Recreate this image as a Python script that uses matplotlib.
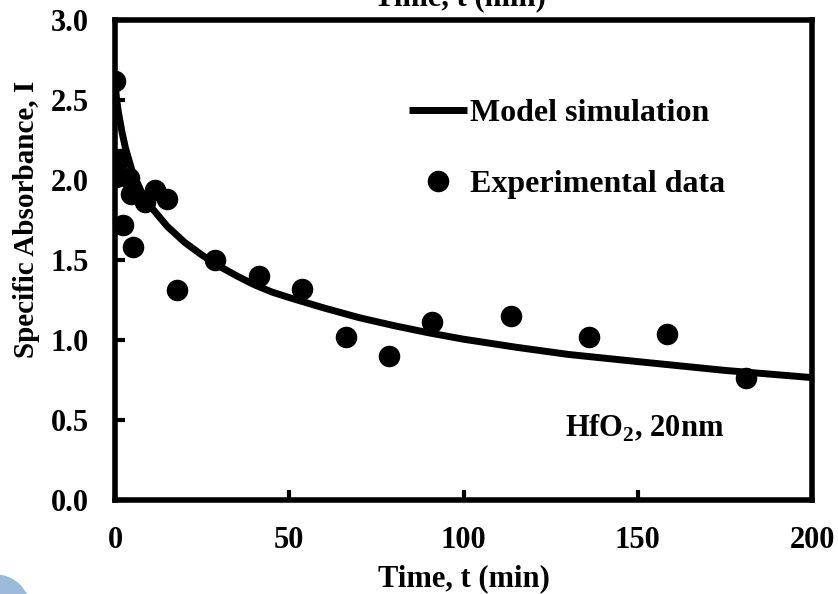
"""
Specific absorbance of HfO2 (20 nm) over time: experiment vs model.
"""

import matplotlib
matplotlib.use("Agg")
import matplotlib.pyplot as plt
from matplotlib.patches import Circle

# measured points
exp_t = [0, 0.3, 1.5, 2.4, 4, 4.5, 5.3, 8.6, 11.5, 15, 17.8,
         28.7, 41.3, 53.6, 66.2, 78.6, 91, 113.5, 136.1, 158.5, 181]
exp_I = [2.62, 2.02, 2.13, 1.72, 2.01, 1.91, 1.58, 1.86, 1.94, 1.88, 1.31,
         1.50, 1.40, 1.32, 1.02, 0.90, 1.11, 1.15, 1.02, 1.04, 0.76]

# model curve
model_t = [0, 0.5, 1, 2, 3, 5, 7.5, 10, 15, 20, 25, 30, 35, 40, 45, 50,
           60, 70, 80, 90, 100, 115, 130, 150, 175, 200]
model_I = [2.60, 2.50, 2.42, 2.30, 2.20, 2.05, 1.93, 1.84, 1.71, 1.61, 1.53,
           1.46, 1.40, 1.345, 1.30, 1.265, 1.20, 1.14, 1.09, 1.045, 1.005,
           0.955, 0.91, 0.865, 0.81, 0.765]

x_ticks = [0, 50, 100, 150, 200]
y_ticks = [0.0, 0.5, 1.0, 1.5, 2.0, 2.5, 3.0]

plt.rcParams["font.family"] = ["Liberation Serif", "DejaVu Serif"]
plt.rcParams["font.weight"] = "bold"
plt.rcParams["mathtext.fontset"] = "custom"
plt.rcParams["mathtext.rm"] = "Liberation Serif:bold"
plt.rcParams["mathtext.bf"] = "Liberation Serif:bold"

fig = plt.figure(figsize=(8.38, 5.94), dpi=100)
ax = fig.add_axes([115 / 838, 1 - 500 / 594, 697 / 838, 480 / 594])

ax.plot(model_t, model_I, color="black", linewidth=5, zorder=3,
        solid_capstyle="butt", solid_joinstyle="round",
        label="Model simulation")
ax.plot(exp_t, exp_I, "o", color="black", markersize=14.5, zorder=2,
        label="Experimental data")

ax.set_xlim(0, 200)
ax.set_ylim(0, 3.0)
ax.set_xticks(x_ticks)
ax.set_yticks(y_ticks)
ax.set_yticklabels([f"{v:.1f}" for v in y_ticks])

for s in ax.spines.values():
    s.set_linewidth(4)
ax.tick_params(direction="in", length=7, width=3, labelsize=22)
ax.tick_params(axis="x", pad=19)
ax.tick_params(axis="y", pad=19)

ax.set_xlabel("Time, t (min)", fontsize=22, fontweight="bold", labelpad=6)
ax.set_ylabel("Specific Absorbance, I", fontsize=21, fontweight="bold")
ax.yaxis.set_label_coords(-0.108, 0.585)

ax.text(129, 0.394, r"HfO$_2$, 20nm", fontsize=22, fontweight="bold",
        ha="left", va="baseline")

ax.legend(loc="upper left", bbox_to_anchor=((409 - 115) / 697, (500 - 99) / 480),
          frameon=False, fontsize=23, handlelength=1.8, handletextpad=0.1,
          labelspacing=1.3, borderpad=0, borderaxespad=0, markerscale=1.0)

# leftover label cut off at the top edge of the original image
fig.text(460 / 838, 1 - 5 / 594, "Time, t (min)", fontsize=22,
         fontweight="bold", ha="center", va="baseline")

# decorative circle in the lower left corner
fig.patches.append(Circle((-5, -16), 35, transform=None, color="#9bbad9",
                          zorder=0))

fig.savefig("out.png", dpi=100)
